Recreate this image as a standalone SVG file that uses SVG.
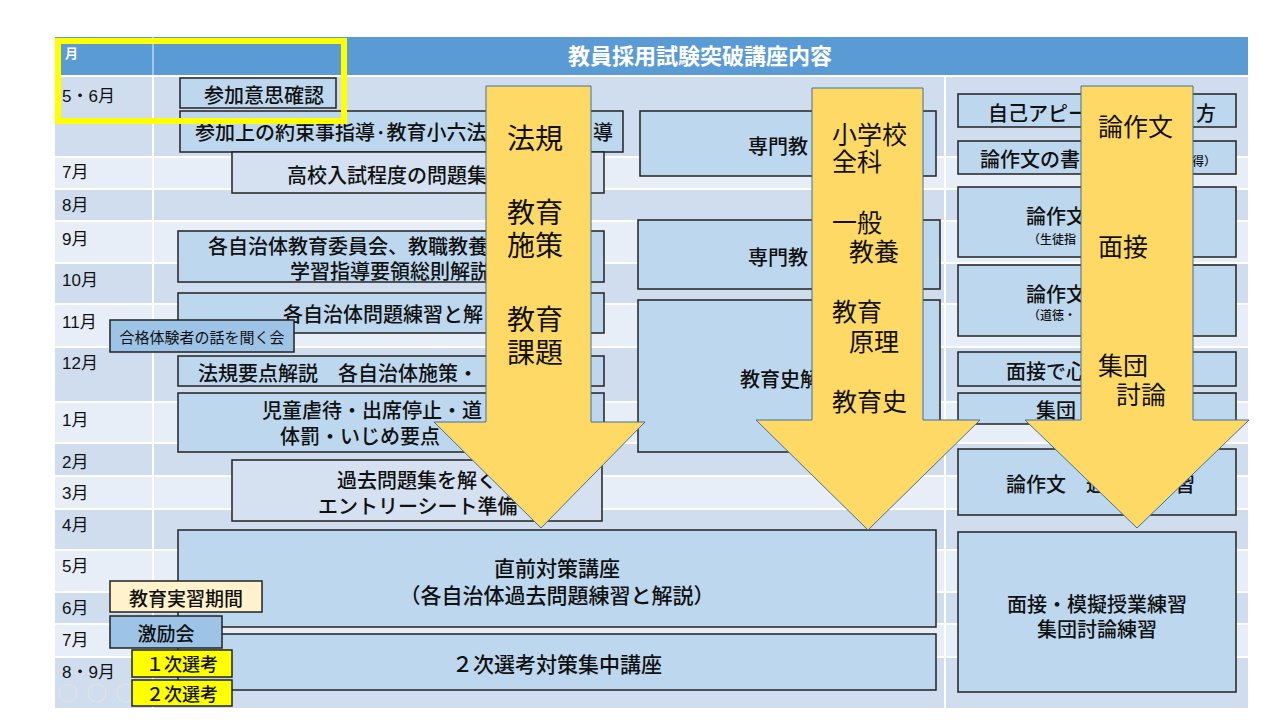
<svg xmlns="http://www.w3.org/2000/svg" width="1280" height="720" viewBox="0 0 1280 720">
<style>
.dk{fill:#CFDDEE}
.lt{fill:#E8EEF7}
.box{fill:#BDD7EE;stroke:#222;stroke-width:1.5}
.boxl{fill:#D5E0F0;stroke:#222;stroke-width:1.5}
.boxd{fill:#9DC3E6;stroke:#222;stroke-width:1.5}
.boxc{fill:#FFF2CC;stroke:#222;stroke-width:1.5}
.boxy{fill:#FFFF00;stroke:#222;stroke-width:1.5}
.arrow{fill:#FFD966;stroke:#41719C;stroke-width:1}
.t{font-family:"Noto Sans CJK JP",sans-serif;font-size:20px;fill:#111;dominant-baseline:central;font-weight:500}
.c{text-anchor:middle}
.e{text-anchor:end}
.s{font-size:12px}
.f21{font-size:21px}
.f19{font-size:19px}
.f18{font-size:18px}
.f15{font-size:15px;font-weight:400}
.m{font-family:"Liberation Sans","Noto Sans CJK JP",sans-serif;font-size:17px;fill:#111;dominant-baseline:central}
.at{font-family:"Noto Sans CJK JP",sans-serif;font-size:25px;fill:#111;dominant-baseline:central}
.f28{font-size:28px}
</style>
<rect width="1280" height="720" fill="#fff"/>
<g id="table">
<rect x="55" y="37" width="1193" height="38" fill="#5B9BD5"/>
<line x1="153" y1="37" x2="153" y2="75" stroke="#fff" stroke-opacity="0.6" stroke-width="1.5"/>
<text x="65" y="52" font-family="Noto Sans CJK JP,sans-serif" font-size="13" font-weight="bold" fill="#fff" dominant-baseline="central">月</text>
<text x="700" y="54" font-family="Noto Sans CJK JP,sans-serif" font-size="22" font-weight="bold" fill="#fff" dominant-baseline="central" text-anchor="middle">教員採用試験突破講座内容</text>
<rect class="dk" x="55" y="77" width="1193" height="79"/>
<rect class="lt" x="55" y="158" width="1193" height="30"/>
<rect class="dk" x="55" y="190" width="1193" height="30"/>
<rect class="lt" x="55" y="222" width="1193" height="40"/>
<rect class="dk" x="55" y="264" width="1193" height="39"/>
<rect class="lt" x="55" y="305" width="1193" height="41"/>
<rect class="dk" x="55" y="348" width="1193" height="53"/>
<rect class="lt" x="55" y="403" width="1193" height="39"/>
<rect class="dk" x="55" y="444" width="1193" height="31"/>
<rect class="lt" x="55" y="477" width="1193" height="31"/>
<rect class="dk" x="55" y="510" width="1193" height="39"/>
<rect class="lt" x="55" y="551" width="1193" height="40"/>
<rect class="dk" x="55" y="593" width="1193" height="30"/>
<rect class="lt" x="55" y="625" width="1193" height="31"/>
<rect class="dk" x="55" y="658" width="1193" height="50"/>
<line x1="153" y1="77" x2="153" y2="708" stroke="#fff" stroke-width="2"/>
<line x1="945" y1="77" x2="945" y2="708" stroke="#fff" stroke-width="2"/>
<text class="m" x="62" y="96">5・6月</text>
<text class="m" x="62" y="172">7月</text>
<text class="m" x="62" y="205">8月</text>
<text class="m" x="62" y="239">9月</text>
<text class="m" x="62" y="280">10月</text>
<text class="m" x="62" y="322">11月</text>
<text class="m" x="62" y="363">12月</text>
<text class="m" x="62" y="420">1月</text>
<text class="m" x="62" y="462">2月</text>
<text class="m" x="62" y="493">3月</text>
<text class="m" x="62" y="525">4月</text>
<text class="m" x="62" y="566">5月</text>
<text class="m" x="62" y="608">6月</text>
<text class="m" x="62" y="640">7月</text>
<text class="m" x="62" y="672">8・9月</text>
</g>
<g id="nav" fill="none" stroke="#e2e2e2" stroke-width="1.2">
<circle cx="68" cy="693" r="9"/>
<circle cx="97" cy="693" r="9"/>
<circle cx="126" cy="693" r="9"/>
<circle cx="156" cy="693" r="9"/>
</g>
<g id="n1"><rect class="box" x="180" y="78" width="156" height="30"/><text class="t c" x="264" y="94">参加意思確認</text></g>
<g id="n2"><rect class="box" x="180" y="111" width="443" height="41"/><text class="t" x="195" y="131">参加上の約束事指導·教育小六法</text><text class="t e" x="613" y="131">導</text></g>
<g id="n3"><rect class="boxl" x="232" y="152" width="372" height="41"/><text class="t" x="287" y="174">高校入試程度の問題集</text></g>
<g id="n4"><rect class="box" x="178" y="231" width="426" height="51"/><text class="t"><tspan x="208" y="245">各自治体教育委員会、教職教養</tspan><tspan x="290" y="270">学習指導要領総則解説</tspan></text></g>
<g id="n5"><rect class="box" x="178" y="293" width="426" height="40"/><text class="t" x="283" y="313">各自治体問題練習と解</text></g>
<g id="n6"><rect class="box" x="178" y="356" width="426" height="30"/><text class="t" x="198" y="372">法規要点解説　各自治体施策・</text></g>
<g id="n7"><rect class="box" x="178" y="393" width="426" height="59"/><text class="t"><tspan x="262" y="409">児童虐待・出席停止・道</tspan><tspan x="280" y="435">体罰・いじめ要点</tspan></text></g>
<g id="n8"><rect class="boxl" x="232" y="460" width="370" height="61"/><text class="t"><tspan x="337" y="479">過去問題集を解く</tspan><tspan x="318" y="505">エントリーシート準備</tspan></text></g>
<g id="n9"><rect class="box" x="178" y="530" width="758" height="97"/><text class="t c f21"><tspan x="557" y="567">直前対策講座</tspan><tspan x="557" y="594">（各自治体過去問題練習と解説）</tspan></text></g>
<g id="n10"><rect class="box" x="178" y="634" width="758" height="56"/><text class="t c f21" x="557" y="663">２次選考対策集中講座</text></g>
<g id="n11"><rect class="box" x="640" y="111" width="296" height="65"/><text class="t" x="748" y="145">専門教</text></g>
<g id="n12"><rect class="box" x="638" y="220" width="302" height="69"/><text class="t" x="748" y="256">専門教</text></g>
<g id="n13"><rect class="box" x="638" y="300" width="302" height="152"/><text class="t" x="740" y="378">教育史解</text></g>
<g id="n14"><rect class="box" x="958" y="94" width="278" height="33"/><text class="t" x="988" y="112">自己アピー</text><text class="t e" x="1216" y="112">方</text></g>
<g id="n15"><rect class="box" x="958" y="141" width="278" height="33"/><text class="t" x="980" y="158">論作文の書</text><text class="t e s" x="1216" y="160">得）</text></g>
<g id="n16"><rect class="box" x="958" y="187" width="278" height="70"/><text class="t"><tspan x="1026" y="215">論作文</tspan><tspan class="s" x="1028" y="238">（生徒指</tspan></text></g>
<g id="n17"><rect class="box" x="958" y="265" width="278" height="71"/><text class="t"><tspan x="1026" y="293">論作文</tspan><tspan class="s" x="1028" y="314">（道徳・</tspan></text></g>
<g id="n18"><rect class="box" x="958" y="352" width="278" height="34"/><text class="t" x="1006" y="370">面接で心</text></g>
<g id="n19"><rect class="box" x="958" y="393" width="278" height="31"/><text class="t" x="1036" y="409">集団</text></g>
<g id="n20"><rect class="box" x="958" y="449" width="278" height="66"/><text class="t" x="1006" y="483">論作文　過</text><text class="t e" x="1195" y="483">習</text></g>
<g id="n21"><rect class="box" x="958" y="532" width="278" height="160"/><text class="t c"><tspan x="1097" y="603">面接・模擬授業練習</tspan><tspan x="1097" y="628">集団討論練習</tspan></text></g>
<g id="n22"><rect class="boxd" x="110" y="320" width="184" height="32"/><text class="t c f15" x="202" y="336">合格体験者の話を聞く会</text></g>
<g id="n23"><rect class="boxc" x="110" y="581" width="152" height="31"/><text class="t c f19" x="186" y="597">教育実習期間</text></g>
<g id="n24"><rect class="boxd" x="110" y="616" width="112" height="32"/><text class="t c f19" x="166" y="632">激励会</text></g>
<g id="n25"><rect class="boxy" x="132" y="650" width="100" height="27"/><text class="t c f18" x="182" y="663">１次選考</text></g>
<g id="n26"><rect class="boxy" x="132" y="680" width="100" height="26"/><text class="t c f18" x="182" y="693">２次選考</text></g>
<g id="highlight"><rect x="58" y="41" width="286" height="80" fill="none" stroke="#FFFF00" stroke-width="6"/></g>
<g id="connectors">
<path class="arrow" d="M486,86 H591 V422 H645 L541,528 L434,422 H486 Z"/>
<path class="arrow" d="M812,88 H923 V420 H980 L868,530 L756,420 H812 Z"/>
<path class="arrow" d="M1081,86 H1193 V420 H1249 L1137,528 L1025,420 H1081 Z"/>
</g>
<g id="arrow-labels">
<text class="at f28" x="507" y="137">法規</text>
<text class="at f28"><tspan x="507" y="211">教育</tspan><tspan x="507" y="244">施策</tspan></text>
<text class="at f28"><tspan x="507" y="318">教育</tspan><tspan x="507" y="351">課題</tspan></text>
<text class="at"><tspan x="832" y="133">小学校</tspan><tspan x="832" y="160">全科</tspan></text>
<text class="at"><tspan x="832" y="221">一般</tspan><tspan x="849" y="250">教養</tspan></text>
<text class="at"><tspan x="832" y="310">教育</tspan><tspan x="849" y="340">原理</tspan></text>
<text class="at" x="832" y="400">教育史</text>
<text class="at" x="1098" y="125">論作文</text>
<text class="at" x="1098" y="245">面接</text>
<text class="at"><tspan x="1098" y="364">集団</tspan><tspan x="1116" y="393">討論</tspan></text>
</g>
</svg>
